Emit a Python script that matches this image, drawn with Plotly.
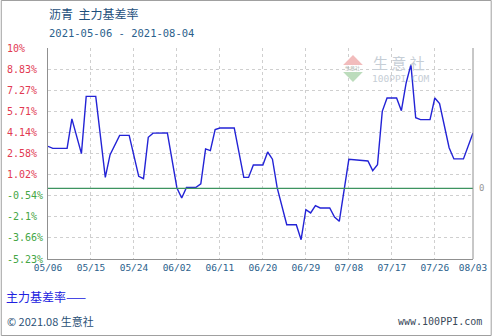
import plotly.graph_objects as go

# ---- data (vertices of the line) ----
dates = ["2021-05-06", "2021-05-07", "2021-05-10", "2021-05-11", "2021-05-13", "2021-05-14",
         "2021-05-16", "2021-05-18", "2021-05-19", "2021-05-21", "2021-05-23", "2021-05-25",
         "2021-05-26", "2021-05-27", "2021-05-28", "2021-05-31", "2021-06-02", "2021-06-03",
         "2021-06-04", "2021-06-06", "2021-06-07", "2021-06-08", "2021-06-09", "2021-06-10",
         "2021-06-11", "2021-06-14", "2021-06-16", "2021-06-17", "2021-06-18", "2021-06-20",
         "2021-06-21", "2021-06-22", "2021-06-23", "2021-06-25", "2021-06-27", "2021-06-28",
         "2021-06-29", "2021-06-30", "2021-07-01", "2021-07-02", "2021-07-04", "2021-07-05",
         "2021-07-06", "2021-07-07", "2021-07-08", "2021-07-12", "2021-07-13", "2021-07-14",
         "2021-07-15", "2021-07-16", "2021-07-18", "2021-07-19", "2021-07-20", "2021-07-21",
         "2021-07-22", "2021-07-23", "2021-07-25", "2021-07-26", "2021-07-27", "2021-07-29",
         "2021-07-30", "2021-08-01", "2021-08-03"]
values = [3.11, 2.96, 2.96, 5.14, 2.57, 6.81,
          6.81, 0.81, 2.49, 3.92, 3.92, 0.89,
          0.72, 3.78, 4.09, 4.10, 0.03, -0.71,
          0.07, 0.07, 0.33, 2.92, 2.79, 4.35,
          4.47, 4.47, 0.81, 0.81, 1.73, 1.73,
          2.69, 2.16, 0.03, -2.69, -2.69, -3.80,
          -1.58, -1.82, -1.28, -1.45, -1.45, -2.12,
          -2.44, 0.03, 2.15, 2.03, 1.31, 1.75,
          5.70, 6.69, 6.69, 5.75, 7.80, 9.16,
          5.23, 5.09, 5.09, 6.69, 6.27, 3.01,
          2.18, 2.18, 4.10]

x_tick_dates = ["2021-05-06", "2021-05-15", "2021-05-24", "2021-06-02", "2021-06-11", "2021-06-20",
                "2021-06-29", "2021-07-08", "2021-07-17", "2021-07-26", "2021-08-03"]
x_tick_text = ["05/06", "05/15", "05/24", "06/02", "06/11", "06/20",
               "06/29", "07/08", "07/17", "07/26", "08/03"]
y_tick_vals = [-5.23, -3.668, -2.106, -0.544, 1.018, 2.58, 4.142, 5.704, 7.266, 8.828, 10.39]
y_tick_text = ["-5.23%", "-3.66%", "-2.1%", "-0.54%", "1.02%", "2.58%", "4.14%",
               "5.71%", "7.27%", "8.83%", "10%"]

title = "沥青  主力基差率"
subtitle = "2021-05-06 - 2021-08-04"
series_name = "主力基差率"

# ---- layout geometry (pixels) ----
W, H = 499, 336
L, R, T, B = 48, 480, 48, 259


def px2x(px):
    return (px - L) / (R - L)


def px2y(py):
    return (B - py) / (B - T)


CJK = "Noto Sans CJK SC, sans-serif"
MONO = "DejaVu Sans Mono, monospace"

fig = go.Figure()
fig.add_trace(go.Scatter(x=dates, y=values, mode="lines",
                         line=dict(color="#2323d6", width=1.4),
                         name=series_name, showlegend=False, hoverinfo="x+y"))

fig.add_shape(type="line", xref="paper", yref="y", x0=0, x1=1, y0=0, y1=0,
              line=dict(color="#3d9460", width=1.2), layer="above")

annotations = []
for v, t in zip(y_tick_vals, y_tick_text):
    col = "#e23a52" if v > 0 else "#45a645"
    annotations.append(dict(x=px2x(4), y=v, xref="paper", yref="y", text=t,
                            showarrow=False, xanchor="left", yanchor="middle",
                            font=dict(family=MONO, size=10, color=col)))
annotations.append(dict(x=px2x(484), y=0, xref="paper", yref="y", text="0",
                        showarrow=False, xanchor="left", yanchor="middle",
                        font=dict(family=MONO, size=9, color="#999999")))
annotations += [
    dict(x=px2x(47), y=px2y(14), xref="paper", yref="paper", text=title,
         showarrow=False, xanchor="left", yanchor="middle",
         font=dict(family=CJK, size=12, color="#1d4f7c")),
    dict(x=px2x(47), y=px2y(33), xref="paper", yref="paper", text=subtitle,
         showarrow=False, xanchor="left", yanchor="middle",
         font=dict(family=MONO, size=10.5, color="#2b5f8c")),
    dict(x=px2x(3), y=px2y(296), xref="paper", yref="paper", text=series_name + "——",
         showarrow=False, xanchor="left", yanchor="middle",
         font=dict(family=CJK, size=12, color="#2020e0")),
    dict(x=px2x(4), y=px2y(321), xref="paper", yref="paper", text="© 2021.08 生意社",
         showarrow=False, xanchor="left", yanchor="middle",
         font=dict(family=CJK, size=11, color="#2a4f75")),
    dict(x=px2x(491), y=px2y(321), xref="paper", yref="paper", text="www.100PPI.com",
         showarrow=False, xanchor="right", yanchor="middle",
         font=dict(family=MONO, size=10, color="#3a4a5a")),
    # watermark
    dict(x=px2x(376), y=px2y(63), xref="paper", yref="paper", text="生 意 社",
         showarrow=False, xanchor="left", yanchor="middle",
         font=dict(family=CJK, size=15, color="#c6ced6")),
    dict(x=px2x(375), y=px2y(78), xref="paper", yref="paper", text="100PPI.COM",
         showarrow=False, xanchor="left", yanchor="middle",
         font=dict(family=MONO, size=9.5, color="#c6ced6")),
    dict(x=px2x(358), y=px2y(68), xref="paper", yref="paper", text="生意社",
         showarrow=False, xanchor="center", yanchor="middle",
         font=dict(family=CJK, size=5, color="#b0b8b0")),
]

shapes = [
    # footer separator
    dict(type="line", xref="paper", yref="paper", x0=px2x(0), x1=px2x(492),
         y0=px2y(307), y1=px2y(307), line=dict(color="#9a9a9a", width=1)),
    # outer frame
    dict(type="rect", xref="paper", yref="paper", x0=px2x(0.5), x1=px2x(498.5),
         y0=px2y(0.5), y1=px2y(335.5), line=dict(color="#a0a0a0", width=1)),
    # plot frame right
    dict(type="line", xref="paper", yref="paper", x0=1, x1=1, y0=0, y1=1,
         line=dict(color="#909090", width=1)),
    # watermark logo triangles
    dict(type="path", xref="paper", yref="paper",
         path=f"M {px2x(348)},{px2y(65)} L {px2x(368)},{px2y(65)} L {px2x(358)},{px2y(55)} Z",
         fillcolor="#f2bcbc", line=dict(width=0)),
    dict(type="path", xref="paper", yref="paper",
         path=f"M {px2x(348)},{px2y(72)} L {px2x(368)},{px2y(72)} L {px2x(358)},{px2y(82)} Z",
         fillcolor="#bcdcbc", line=dict(width=0)),
]

fig.update_layout(
    width=W, height=H,
    margin=dict(l=L, r=W - R, t=T, b=H - B, pad=0),
    paper_bgcolor="white", plot_bgcolor="white",
    showlegend=False,
    annotations=annotations, shapes=shapes,
    xaxis=dict(type="date", range=["2021-05-06", "2021-08-03"],
               tickvals=x_tick_dates, ticktext=x_tick_text, tickangle=0,
               showgrid=True, gridcolor="#cfcfcf", griddash="dot", gridwidth=1,
               showline=True, linecolor="#909090", linewidth=1, mirror=False,
               ticks="", ticklen=0, zeroline=False,
               tickfont=dict(family=MONO, size=9.5, color="#2b5f8c")),
    yaxis=dict(range=[-5.23, 10.39], tickvals=y_tick_vals, showticklabels=False,
               showgrid=True, gridcolor="#cfcfcf", griddash="dot", gridwidth=1,
               showline=True, linecolor="#909090", linewidth=1,
               ticks="", zeroline=False),
)

fig.write_html("out.html")
